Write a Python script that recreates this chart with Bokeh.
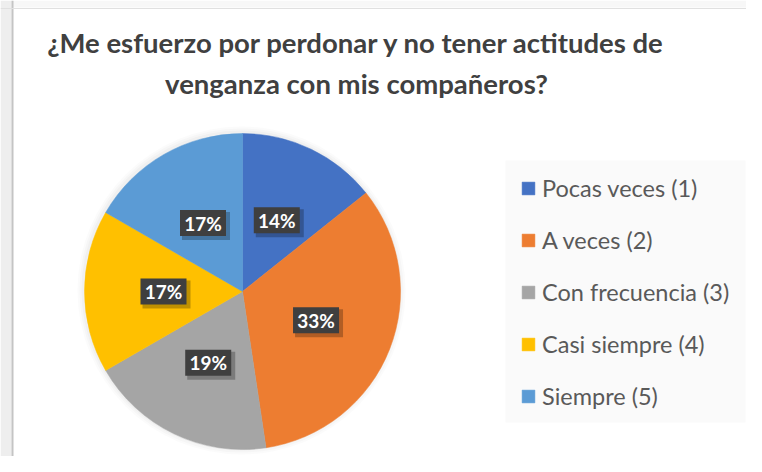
import math
from bokeh.plotting import figure
from bokeh.models import ColumnDataSource, Range1d, Legend, LegendItem, Label, Span, BoxAnnotation
from bokeh.core.properties import value
from bokeh.embed import file_html
from bokeh.resources import INLINE

# ---- data ----
title_lines = ["¿Me esfuerzo por perdonar y no tener actitudes de",
               "venganza con mis compañeros?"]
categories = ["Pocas veces (1)", "A veces (2)", "Con frecuencia (3)",
              "Casi siempre (4)", "Siempre (5)"]
counts = [6, 14, 8, 7, 7]
colors = ["#4472C4", "#ED7D31", "#A5A5A5", "#FFC000", "#5B9BD5"]

# ---- layout (figure pixel coordinates) ----
W, H = 746, 456
cx, cy, R = 242, 165, 158
label_r = 0.5 * R
FONT = "Lato"

total = sum(counts)
fracs = [c / total for c in counts]
starts, ends, lx, ly, ltxt = [], [], [], [], []
cum = 0.0
for f in fracs:
    a0 = math.pi / 2 - 2 * math.pi * cum
    a1 = math.pi / 2 - 2 * math.pi * (cum + f)
    mid = (a0 + a1) / 2
    starts.append(a0)
    ends.append(a1)
    lx.append(cx + label_r * math.cos(mid))
    ly.append(cy + label_r * math.sin(mid))
    ltxt.append(f"{round(f * 100)}%")
    cum += f

src = ColumnDataSource(dict(cat=categories, count=counts, color=colors,
                            start=starts, end=ends, lx=lx, ly=ly, txt=ltxt,
                            sx=[x + 3 for x in lx], sy=[y - 3 for y in ly]))

p = figure(width=W, height=H, output_backend="svg", toolbar_location=None,
           x_range=Range1d(0, W), y_range=Range1d(0, H),
           x_axis_type=None, y_axis_type=None, min_border=0,
           background_fill_color="white", border_fill_color="white")
p.grid.visible = False
p.outline_line_color = None

# chart-area edge (left / top) like the reference screenshot
p.add_layout(BoxAnnotation(left=0, right=11, fill_color="#EEEEEE", fill_alpha=1,
                           line_color=None, level="underlay"))
p.add_layout(BoxAnnotation(bottom=H - 7, top=H, left=11, fill_color="#F7F7F7",
                           fill_alpha=1, line_color=None, level="underlay"))
p.add_layout(Span(location=12, dimension="height", line_color="#C4C4C4",
                  line_width=2))
p.add_layout(Span(location=H - 8, dimension="width", line_color="#E0E0E0",
                  line_width=1))

# legend area background
p.add_layout(BoxAnnotation(left=505, right=W - 1, bottom=34, top=H - 160,
                           fill_color="#FAFAFA", fill_alpha=1, line_color=None,
                           level="underlay"))

# soft shadow around pie
for dr, a in [(6, 0.03), (4, 0.04), (2, 0.05)]:
    p.circle(x=cx - 1, y=cy + 1, radius=R + dr, fill_color="#808080",
             fill_alpha=a, line_color=None)

wr = p.wedge(x=cx, y=cy, radius=R, start_angle="start", end_angle="end",
             direction="clock", fill_color="color", line_color="color",
             line_width=0.5, source=src)

# data label boxes with shadow
p.rect(x="sx", y="sy", width=48, height=28, fill_color="black", fill_alpha=0.25,
       line_color=None, source=src)
p.rect(x="lx", y="ly", width=46, height=26, fill_color="#3F3F3F",
       line_color=None, source=src)
p.text(x="lx", y="ly", text="txt", text_color="white",
       text_font=value(FONT), text_font_style="bold", text_font_size="19px",
       text_align="center", text_baseline="middle", source=src)

# title
baselines = [42, 83]
for t, b in zip(title_lines, baselines):
    p.add_layout(Label(x=356, y=H - b, text=t,
                       text_font=FONT, text_font_style="bold",
                       text_font_size="27.5px", text_color="#404040",
                       text_align="center", text_baseline="alphabetic"))

legend = Legend(items=[LegendItem(label=c, renderers=[wr], index=i)
                       for i, c in enumerate(categories)],
                location=(520, 45), orientation="vertical",
                label_text_font=FONT, label_text_font_size="23.5px",
                label_text_color="#595959", label_height=30,
                glyph_height=16, glyph_width=16, label_standoff=6,
                spacing=22, padding=12, margin=0,
                background_fill_alpha=0, border_line_color=None)
p.add_layout(legend, "center")

open("out.html", "w").write(file_html(p, INLINE))
